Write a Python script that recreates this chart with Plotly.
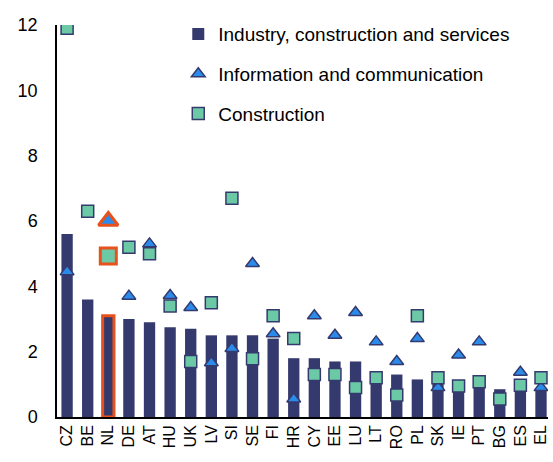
import plotly.graph_objects as go

countries = ["CZ", "BE", "NL", "DE", "AT", "HU", "UK", "LV", "SI", "SE", "FI", "HR",
             "CY", "EE", "LU", "LT", "RO", "PL", "SK", "IE", "PT", "BG", "ES", "EL"]
industry = [5.6, 3.6, 3.1, 3.0, 2.9, 2.75, 2.7, 2.5, 2.5, 2.5, 2.4, 1.8,
            1.8, 1.7, 1.7, 1.35, 1.3, 1.15, 1.15, 1.13, 1.0, 0.85, 1.0, 0.8]
infocomm = [4.45, None, 6.0, 3.7, 5.3, 3.72, 3.35, 1.66, 2.1, 4.7, 2.55, 0.55,
            3.1, 2.5, 3.2, 2.3, 1.7, 2.4, 0.9, 1.9, 2.3, None, 1.37, 0.9]
construction = [11.9, 6.3, 4.93, 5.2, 5.0, 3.4, 1.7, 3.5, 6.7, 1.78, 3.1, 2.4,
                1.3, 1.3, 0.9, 1.2, 0.67, 3.1, 1.2, 0.95, 1.08, 0.55, 0.97, 1.2]
highlight = "NL"

NAVY = "#353A6E"
BLUE = "#2B8BEB"
MINT = "#6CC9A6"
ORANGE = "#E8511C"
FONT = "Liberation Sans, Arial, sans-serif"

hi = countries.index(highlight)

bar_line_w = [3 if c == highlight else 0 for c in countries]
bar_line_c = [ORANGE if c == highlight else NAVY for c in countries]

info_x = [c for c, v in zip(countries, infocomm) if c != highlight]
info_y = [v for c, v in zip(countries, infocomm) if c != highlight]
cons_x = [c for c, v in zip(countries, construction) if c != highlight]
cons_y = [v for c, v in zip(countries, construction) if c != highlight]

fig = go.Figure()
fig.add_trace(go.Bar(
    x=countries, y=industry, name="Industry, construction and services",
    marker=dict(color=NAVY, line=dict(color=bar_line_c, width=bar_line_w)),
    width=0.55, legendgroup="a",
))
fig.add_trace(go.Scatter(
    x=info_x, y=info_y, mode="markers", name="Information and communication",
    marker=dict(symbol="triangle-up", size=12, color=BLUE, line=dict(color=NAVY, width=1.5)),
    legendgroup="b",
))
fig.add_trace(go.Scatter(
    x=cons_x, y=cons_y, mode="markers", name="Construction",
    marker=dict(symbol="square", size=12, color=MINT, line=dict(color=NAVY, width=1.5)),
    legendgroup="c",
))
fig.add_trace(go.Scatter(
    x=[highlight], y=[infocomm[hi]], mode="markers", showlegend=False,
    marker=dict(symbol="triangle-up", size=17, color=BLUE, line=dict(color=ORANGE, width=3)),
))
fig.add_trace(go.Scatter(
    x=[highlight], y=[construction[hi]], mode="markers", showlegend=False,
    marker=dict(symbol="square", size=16, color=MINT, line=dict(color=ORANGE, width=3)),
))

fig.update_layout(
    width=553, height=462,
    margin=dict(l=57, r=5, t=25, b=45),
    paper_bgcolor="white", plot_bgcolor="white",
    font=dict(family=FONT, size=17, color="black"),
    bargap=0.45,
    legend=dict(x=0.247, y=1.025, xanchor="left", yanchor="top",
                font=dict(size=19), tracegroupgap=12, bgcolor="rgba(0,0,0,0)"),
    xaxis=dict(
        type="category", range=[-0.49, 23.34], tickangle=-90,
        showline=True, linecolor="black", linewidth=1.5,
        ticks="", showgrid=False, tickfont=dict(size=16), automargin=False,
    ),
    yaxis=dict(
        range=[0, 12], dtick=2, showline=True, linecolor="black", linewidth=1.5,
        ticks="", showgrid=False, zeroline=False, tickfont=dict(size=18),
        automargin=False, ticklabelstandoff=14,
    ),
)

fig.write_html(
    "out.html",
    config={"displayModeBar": False},
    post_script="document.body.style.margin='0';document.body.style.padding='0';document.body.style.overflow='hidden';",
)
